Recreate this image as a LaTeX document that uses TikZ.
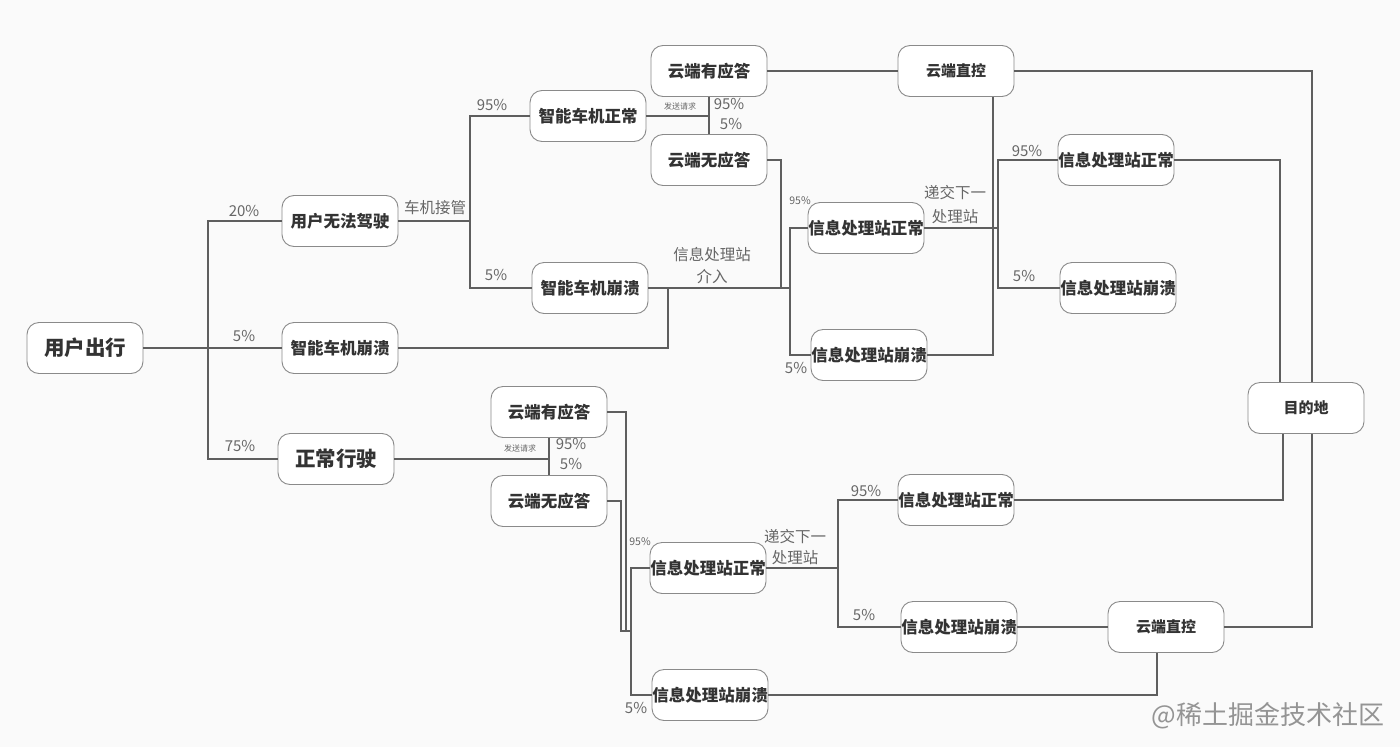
\documentclass[tikz,border=0pt]{standalone}
\usepackage{fontspec}
\setmainfont{Noto Sans CJK SC}
\usetikzlibrary{calc}
\definecolor{boxc}{HTML}{8A8A8A}
\definecolor{linec}{HTML}{5E5E5E}
\definecolor{txt}{HTML}{333333}
\definecolor{lab}{HTML}{666666}
\definecolor{bg}{HTML}{FAFAFA}
\begin{document}
\begin{tikzpicture}[x=1pt,y=-1pt,
  box/.style={draw=boxc, line width=0.9pt, rounded corners=12pt, minimum width=116pt, minimum height=51pt, inner sep=0pt, font=\fontsize{16.5}{18}\selectfont\bfseries, text=txt, fill=white},
  bigbox/.style={box, font=\fontsize{20.5}{22}\selectfont\bfseries},
  smallbox/.style={box, font=\fontsize{15}{17}\selectfont\bfseries},
  ln/.style={draw=linec, line width=1.3pt},
  pct/.style={font=\fontsize{15}{16}\selectfont, text=lab, inner sep=0pt},
  spct/.style={font=\fontsize{10.5}{12}\selectfont, text=lab, inner sep=0pt},
  tiny/.style={font=\fontsize{8}{9}\selectfont, text=lab, inner sep=0pt},
  lbl/.style={font=\fontsize{15.5}{17}\selectfont, text=lab, inner sep=0pt}]
\fill[bg] (0,0) rectangle (1400,747);
\useasboundingbox (0,0) rectangle (1400,747);

% nodes
\node[bigbox] (ux) at (85,348) {用户出行};
\node[box] (wf) at (340,221) {用户无法驾驶};
\node[box] (cr1) at (340,348) {智能车机崩溃};
\node[bigbox] (zc) at (336,459) {正常行驶};
\node[box] (zz) at (588,116) {智能车机正常};
\node[box] (cb2) at (590,288) {智能车机崩溃};
\node[box] (yy) at (709,71) {云端有应答};
\node[box] (wy) at (709,160) {云端无应答};
\node[smallbox] (zk) at (956,71) {云端直控};
\node[box] (xz1) at (866,228) {信息处理站正常};
\node[box] (xb1) at (869,355) {信息处理站崩溃};
\node[box] (xz2) at (1116,160) {信息处理站正常};
\node[box] (xb2) at (1118,288) {信息处理站崩溃};
\node[smallbox] (mdd) at (1306,408) {目的地};
\node[box] (yb) at (549,412) {云端有应答};
\node[box] (wb) at (549,501) {云端无应答};
\node[box] (xz3) at (708,568) {信息处理站正常};
\node[box] (xb3) at (710,695) {信息处理站崩溃};
\node[box] (xz4) at (956,500) {信息处理站正常};
\node[box] (xb4) at (959,627) {信息处理站崩溃};
\node[smallbox] (zk2) at (1166,627) {云端直控};

% junction coordinates
\coordinate (j1) at (208,348);
\coordinate (j2) at (470,221);
\coordinate (j4) at (790,288);
\coordinate (j5) at (998,228);
\coordinate (j6) at (631,568);
\coordinate (j7) at (838,568);
\coordinate (m1) at ($(mdd.north)+(6,0)$);
\coordinate (m2) at ($(mdd.north)+(-26,0)$);
\coordinate (m3) at ($(mdd.south)+(-23,0)$);
\coordinate (m4) at ($(mdd.south)+(6,0)$);
\coordinate (z1) at ($(zk.south)+(37,0)$);
\coordinate (z2) at ($(zk2.south)+(-9,0)$);

% upper tree
\draw[ln] (ux.east) -- (cr1.west);
\draw[ln] (wf.west) -| (j1) |- (zc.west);
\draw[ln] (wf.east) -- (j2);
\draw[ln] (zz.west) -| (j2) |- (cb2.west);
\draw[ln] (zz.east) -- (yy.south |- zz.east);
\draw[ln] (yy.south) -- (wy.north);
\draw[ln] (yy.east) -- (zk.west);
\draw[ln] (zk.east) -| (m1);
\draw[ln] (wy.east) -| (781,288);
\draw[ln] (cb2.east) -- (j4);
\draw[ln] (cr1.east) -| (668,288);
\draw[ln] (xz1.west) -| (j4) |- (xb1.west);
\draw[ln] (xz1.east) -- (j5);
\draw[ln] (xz2.west) -| (j5) |- (xb2.west);
\draw[ln] (xb1.east) -| (z1);
\draw[ln] (xz2.east) -| (m2);

% lower tree
\draw[ln] (zc.east) -- (yb.south |- zc.east);
\draw[ln] (yb.south) -- (wb.north);
\draw[ln] (yb.east) -| (626,631) -- (621,631) |- (wb.east);
\draw[ln] (626,631) -- (631,631);
\draw[ln] (xz3.west) -| (j6) |- (xb3.west);
\draw[ln] (xz3.east) -- (j7);
\draw[ln] (xz4.west) -| (j7) |- (xb4.west);
\draw[ln] (xz4.east) -| (m3);
\draw[ln] (xb4.east) -- (zk2.west);
\draw[ln] (zk2.east) -| (m4);
\draw[ln] (z2) |- (xb3.east);

% labels
\node[pct] (l20) at (244,211) {20\%};
\node[pct] (l5a) at (244,336) {5\%};
\node[pct] (l75) at (240,446) {75\%};
\node[lbl] (ljg) at (435,208) {车机接管};
\node[pct] (l95b) at (492,105) {95\%};
\node[pct] (l5b) at (496,275) {5\%};
\node[tiny] (lfs1) at (680,106) {发送请求};
\node[pct] (l95c) at (729,104) {95\%};
\node[pct] (l5c) at (731,124) {5\%};
\node[spct] (l95d) at (800,201) {95\%};
\node[pct] (l5d) at (796,368) {5\%};
\node[lbl] (lxx1) at (712,255) {信息处理站};
\node[lbl] (lxx2) at (712,277) {介入};
\node[lbl] (ldj1) at (955,193) {递交下一};
\node[lbl] (ldj2) at (955,217) {处理站};
\node[pct] (l95e) at (1027,151) {95\%};
\node[pct] (l5e) at (1024,276) {5\%};
\node[tiny] (lfs2) at (520,448) {发送请求};
\node[pct] (l95f) at (571,444) {95\%};
\node[pct] (l5f) at (571,464) {5\%};
\node[spct] (l95g) at (640,542) {95\%};
\node[pct] (l5g) at (636,708) {5\%};
\node[lbl] (ldj3) at (795,537) {递交下一};
\node[lbl] (ldj4) at (795,558) {处理站};
\node[pct] (l95h) at (866,491) {95\%};
\node[pct] (l5h) at (864,615) {5\%};
\node[font=\fontsize{26}{28}\selectfont, text=black!42, inner sep=0pt] (wm) at (1268,716) {@稀土掘金技术社区};
\end{tikzpicture}
\end{document}
